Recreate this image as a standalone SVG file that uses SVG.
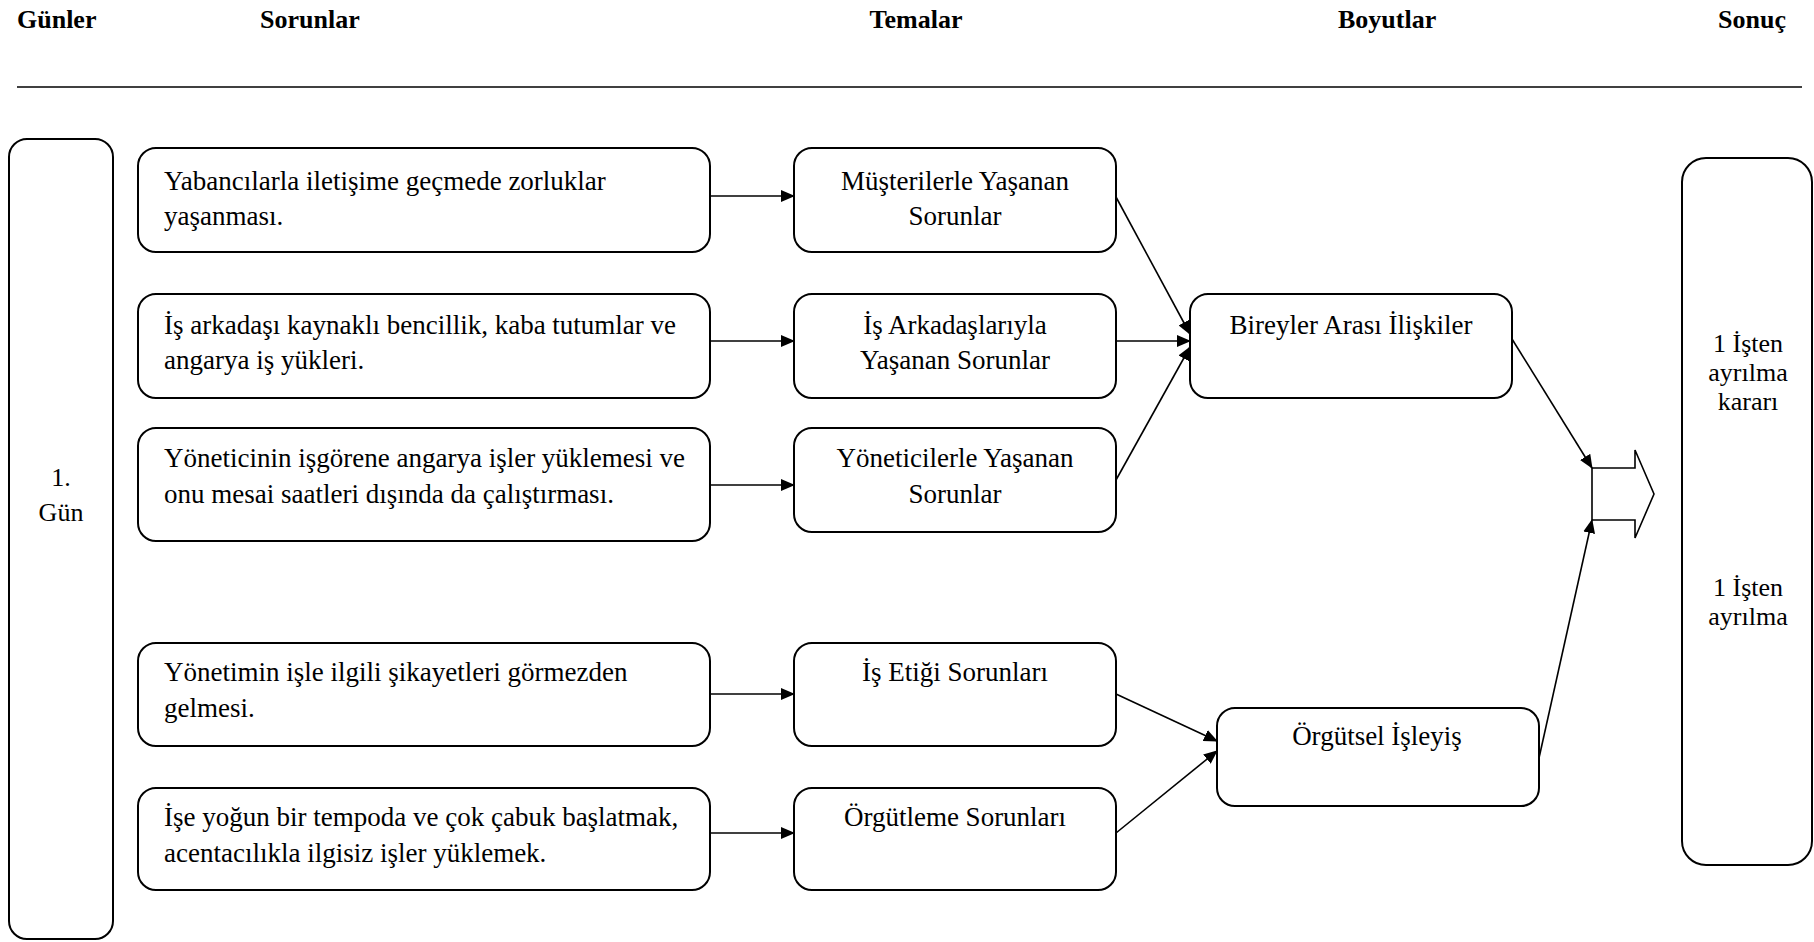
<svg xmlns="http://www.w3.org/2000/svg" width="1814" height="942" viewBox="0 0 1814 942">
<style>
text{font-family:"Liberation Serif","Times New Roman",serif;font-size:26px;fill:#000}
.b{font-size:27px}
.h{font-weight:bold}
.c{text-anchor:middle}
.box{fill:#fff;stroke:#000;stroke-width:2}
.con{stroke:#000;stroke-width:1.6;fill:none;marker-end:url(#ah)}
</style>
<defs>
<marker id="ah" markerUnits="userSpaceOnUse" markerWidth="14" markerHeight="12" refX="13" refY="6" orient="auto">
<path d="M0,0 L14,6 L0,12 z" fill="#000"/>
</marker>
</defs>
<rect width="1814" height="942" fill="#fff"/>
<g id="header">
<text class="h" x="17" y="28">Günler</text>
<text class="h" x="260" y="28">Sorunlar</text>
<text class="h c" x="916" y="28">Temalar</text>
<text class="h" x="1338" y="28">Boyutlar</text>
<text class="h" x="1718" y="28">Sonuç</text>
<line x1="17" y1="87" x2="1802" y2="87" stroke="#000" stroke-width="1.6"/>
</g>
<g id="day1">
<rect class="box" x="9" y="139" width="104" height="800" rx="18"/>
<text class="c" x="61" y="486">1.</text>
<text class="c" x="61" y="521">Gün</text>
</g>
<g id="p1">
<rect class="box" x="138" y="148" width="572" height="104" rx="18"/>
<text class="b" x="164" y="190">Yabancılarla iletişime geçmede zorluklar</text>
<text class="b" x="164" y="225">yaşanması.</text>
</g>
<g id="p2">
<rect class="box" x="138" y="294" width="572" height="104" rx="18"/>
<text class="b" x="164" y="334">İş arkadaşı kaynaklı bencillik, kaba tutumlar ve</text>
<text class="b" x="164" y="369">angarya iş yükleri.</text>
</g>
<g id="p3">
<rect class="box" x="138" y="428" width="572" height="113" rx="18"/>
<text class="b" x="164" y="467">Yöneticinin işgörene angarya işler yüklemesi ve</text>
<text class="b" x="164" y="503">onu mesai saatleri dışında da çalıştırması.</text>
</g>
<g id="p4">
<rect class="box" x="138" y="643" width="572" height="103" rx="18"/>
<text class="b" x="164" y="681">Yönetimin işle ilgili şikayetleri görmezden</text>
<text class="b" x="164" y="717">gelmesi.</text>
</g>
<g id="p5">
<rect class="box" x="138" y="788" width="572" height="102" rx="18"/>
<text class="b" x="164" y="826">İşe yoğun bir tempoda ve çok çabuk başlatmak,</text>
<text class="b" x="164" y="862">acentacılıkla ilgisiz işler yüklemek.</text>
</g>
<g id="t1">
<rect class="box" x="794" y="148" width="322" height="104" rx="18"/>
<text class="b c" x="955" y="190">Müşterilerle Yaşanan</text>
<text class="b c" x="955" y="225">Sorunlar</text>
</g>
<g id="t2">
<rect class="box" x="794" y="294" width="322" height="104" rx="18"/>
<text class="b c" x="955" y="334">İş Arkadaşlarıyla</text>
<text class="b c" x="955" y="369">Yaşanan Sorunlar</text>
</g>
<g id="t3">
<rect class="box" x="794" y="428" width="322" height="104" rx="18"/>
<text class="b c" x="955" y="467">Yöneticilerle Yaşanan</text>
<text class="b c" x="955" y="503">Sorunlar</text>
</g>
<g id="t4">
<rect class="box" x="794" y="643" width="322" height="103" rx="18"/>
<text class="b c" x="955" y="681">İş Etiği Sorunları</text>
</g>
<g id="t5">
<rect class="box" x="794" y="788" width="322" height="102" rx="18"/>
<text class="b c" x="955" y="826">Örgütleme Sorunları</text>
</g>
<g id="d1">
<rect class="box" x="1190" y="294" width="322" height="104" rx="18"/>
<text class="b c" x="1351" y="334">Bireyler Arası İlişkiler</text>
</g>
<g id="d2">
<rect class="box" x="1217" y="708" width="322" height="98" rx="18"/>
<text class="b c" x="1377" y="745">Örgütsel İşleyiş</text>
</g>
<g id="blockarrow">
<path d="M1592,468 L1635,468 L1635,450 L1654,494 L1635,538 L1635,520 L1592,520 Z" fill="#fff" stroke="#000" stroke-width="1.6"/>
</g>
<g id="result">
<rect class="box" x="1682" y="158" width="130" height="707" rx="24"/>
<text class="c" x="1748" y="352">1 İşten</text>
<text class="c" x="1748" y="381">ayrılma</text>
<text class="c" x="1748" y="410">kararı</text>
<text class="c" x="1748" y="596">1 İşten</text>
<text class="c" x="1748" y="625">ayrılma</text>
</g>
<g id="connectors">
<line class="con" x1="710" y1="196" x2="794" y2="196"/>
<line class="con" x1="710" y1="341" x2="794" y2="341"/>
<line class="con" x1="710" y1="485" x2="794" y2="485"/>
<line class="con" x1="710" y1="694" x2="794" y2="694"/>
<line class="con" x1="710" y1="833" x2="794" y2="833"/>
<line class="con" x1="1116" y1="197" x2="1190" y2="334"/>
<line class="con" x1="1116" y1="341" x2="1190" y2="341"/>
<line class="con" x1="1116" y1="480" x2="1190" y2="347"/>
<line class="con" x1="1116" y1="694" x2="1217" y2="741"/>
<line class="con" x1="1116" y1="833" x2="1217" y2="751"/>
<line class="con" x1="1512" y1="339" x2="1592" y2="468"/>
<line class="con" x1="1539" y1="758" x2="1592" y2="520"/>
</g>
</svg>
